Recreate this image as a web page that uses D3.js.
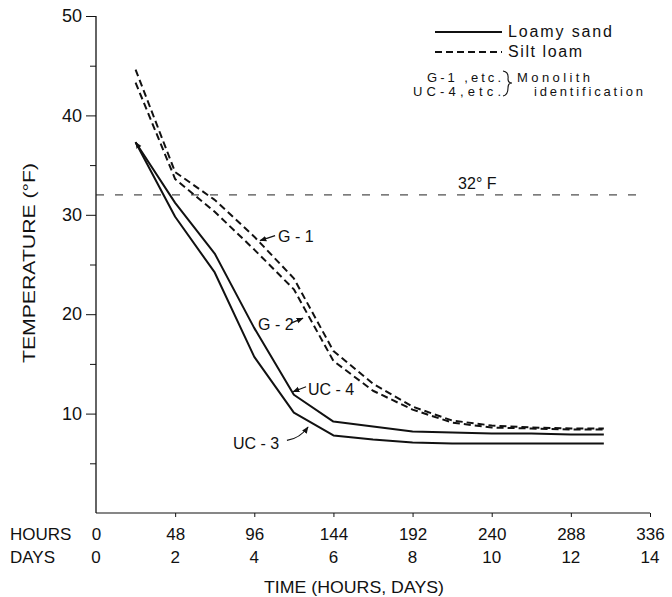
<!DOCTYPE html>
<html>
<head>
<meta charset="utf-8">
<script src="https://cdn.jsdelivr.net/npm/d3@7"></script>
<style>
  body { margin: 0; background: #fff; }
  svg { display: block; }
  text { font-family: "Liberation Sans", Arial, sans-serif; fill: #111; }
</style>
</head>
<body>
<svg id="chart" width="672" height="597"></svg>
<script>
// ---- data ----
const hours = [24, 48, 72, 96, 120, 144, 168, 192, 216, 240, 264, 288, 308];
const uc4 = [37.3, 31.2, 26.1, 18.6, 11.9, 9.2, 8.7, 8.2, 8.1, 8.0, 8.0, 7.9, 7.9];   // loamy sand
const uc3 = [37.3, 29.8, 24.2, 15.7, 10.1, 7.8, 7.4, 7.1, 7.0, 7.0, 7.0, 7.0, 7.0];   // loamy sand
const g1  = [44.6, 34.3, 31.5, 27.8, 23.6, 16.3, 13.0, 10.7, 9.3, 8.8, 8.6, 8.5, 8.5]; // silt loam
const g2  = [43.3, 33.6, 30.3, 26.5, 22.5, 15.3, 12.3, 10.4, 9.1, 8.6, 8.5, 8.4, 8.4]; // silt loam
const hourTicks = [0, 48, 96, 144, 192, 240, 288, 336];
const dayLabels = ["0", "2", "4", "6", "8", "10", "12", "14"];
const tempTicks = [5, 10, 15, 20, 25, 30, 35, 40, 45, 50];
const freezing = 32;

const series = [
  { name: "UC-4", values: uc4, dashed: false },
  { name: "UC-3", values: uc3, dashed: false },
  { name: "G-1", values: g1, dashed: true },
  { name: "G-2", values: g2, dashed: true }
];

// annotation labels in data units: [hour, temp] for text and arrow tail/tip
const annotations = [
  { label: "G-1",  text: [110.4, 27.3], from: [108.6, 27.9], to: [99.5, 27.4] },
  { label: "G-2",  text: [98.3, 18.4],  from: [118.3, 19.1], to: [125.5, 19.6] },
  { label: "UC-4", text: [128.6, 11.9], from: [127.4, 12.7], to: [119.5, 12.2] },
  { label: "UC-3", text: [83.1, 6.4],   from: [115.8, 7.3],  to: [128.6, 8.65], curve: [123.7, 7.5] }
];

// ---- chart ----
const svg = d3.select("#chart");
const x = d3.scaleLinear().domain([0, 336]).range([96, 650]);
const y = d3.scaleLinear().domain([0, 50]).range([513, 16]);

const defs = svg.append("defs");
defs.append("marker")
  .attr("id", "arrow").attr("viewBox", "0 0 10 10")
  .attr("refX", 9).attr("refY", 5)
  .attr("markerWidth", 7).attr("markerHeight", 7)
  .attr("markerUnits", "userSpaceOnUse")
  .attr("orient", "auto")
  .append("path").attr("d", "M0,1 L10,5 L0,9 Z").attr("fill", "#111");

// Y axis
const yAxis = d3.axisLeft(y)
  .tickValues(tempTicks)
  .tickSizeOuter(0)
  .tickPadding(4)
  .tickFormat(d => d % 10 === 0 ? d : "");
const gy = svg.append("g").attr("transform", `translate(${x(0)},0)`).call(yAxis);
gy.select(".domain").attr("stroke", "#111").attr("stroke-width", 1.3).attr("d", `M0,${y(0)}V${y(50)}`);
gy.selectAll(".tick line")
  .attr("stroke", "#111")
  .attr("x2", d => d % 10 === 0 ? -10 : -6);
gy.selectAll(".tick text")
  .attr("x", -14)
  .style("font-size", "18px")
  .style("font-family", "'Liberation Sans', Arial, sans-serif");

// X axis
const xAxis = d3.axisBottom(x)
  .tickValues(hourTicks)
  .tickSizeOuter(0)
  .tickSizeInner(4)
  .tickPadding(11)
  .tickFormat(d => d);
const gx = svg.append("g").attr("transform", `translate(0,${y(0)})`).call(xAxis);
gx.select(".domain").attr("stroke", "#111").attr("stroke-width", 1.2).attr("d", `M${x(0)},0H${x(336)}`);
gx.selectAll(".tick line").attr("stroke", "#111").attr("opacity", d => d === 0 ? 0 : 1);
gx.selectAll(".tick text")
  .style("font-size", "17px")
  .style("font-family", "'Liberation Sans', Arial, sans-serif");

// days row
svg.append("g").selectAll("text")
  .data(hourTicks)
  .join("text")
  .attr("x", d => x(d))
  .attr("y", 563)
  .attr("text-anchor", "middle")
  .style("font-size", "17px")
  .text((d, i) => dayLabels[i]);

svg.append("text").attr("x", 10).attr("y", 540).style("font-size", "17px").text("HOURS");
svg.append("text").attr("x", 10).attr("y", 563).style("font-size", "17px").text("DAYS");

// axis titles
svg.append("text")
  .attr("x", 354).attr("y", 593)
  .attr("text-anchor", "middle")
  .attr("textLength", 180).attr("lengthAdjust", "spacingAndGlyphs")
  .style("font-size", "17px")
  .text("TIME (HOURS, DAYS)");

svg.append("text")
  .attr("transform", "translate(35,263) rotate(-90)")
  .attr("text-anchor", "middle")
  .attr("textLength", 200).attr("lengthAdjust", "spacingAndGlyphs")
  .style("font-size", "16px")
  .text("TEMPERATURE (°F)");

// 32 F reference line
svg.append("line")
  .attr("x1", x(0)).attr("x2", x(336) - 5)
  .attr("y1", y(freezing)).attr("y2", y(freezing))
  .attr("stroke", "#222").attr("stroke-width", 1)
  .attr("stroke-dasharray", "8,11");
svg.append("text")
  .attr("x", x(219.6)).attr("y", y(32.6))
  .style("font-size", "16px")
  .text("32° F");

// series lines
const line = d3.line().x((d, i) => x(hours[i])).y(d => y(d));
svg.append("g").selectAll("path")
  .data(series)
  .join("path")
  .attr("d", d => line(d.values))
  .attr("fill", "none")
  .attr("stroke", "#111")
  .attr("stroke-width", 2)
  .attr("stroke-linejoin", "round")
  .attr("stroke-dasharray", d => d.dashed ? "7,4" : null);

// small arrowhead at solid-line start
svg.append("path")
  .attr("d", `M${x(hours[1])},${y(uc4[1])}L${x(hours[0])},${y(uc4[0])}`)
  .attr("fill", "none").attr("stroke", "none")
  .attr("marker-end", "url(#arrow)");

// annotations
const ag = svg.append("g");
annotations.forEach(a => {
  ag.append("text")
    .attr("x", x(a.text[0])).attr("y", y(a.text[1]))
    .style("font-size", "16px")
    .text(a.label.replace("-", " - "));
  const p = d3.path();
  p.moveTo(x(a.from[0]), y(a.from[1]));
  if (a.curve) p.quadraticCurveTo(x(a.curve[0]), y(a.curve[1]), x(a.to[0]), y(a.to[1]));
  else p.lineTo(x(a.to[0]), y(a.to[1]));
  ag.append("path")
    .attr("d", p.toString())
    .attr("fill", "none").attr("stroke", "#111").attr("stroke-width", 1.2)
    .attr("marker-end", "url(#arrow)");
});

// legend
const lg = svg.append("g");
lg.append("line").attr("x1", 435).attr("x2", 502).attr("y1", 32).attr("y2", 32)
  .attr("stroke", "#111").attr("stroke-width", 1.8);
lg.append("line").attr("x1", 435).attr("x2", 502).attr("y1", 52).attr("y2", 52)
  .attr("stroke", "#111").attr("stroke-width", 1.8).attr("stroke-dasharray", "7,4");
lg.append("text").attr("x", 508).attr("y", 37).attr("textLength", 104).attr("lengthAdjust", "spacing")
  .style("font-size", "16px").text("Loamy sand");
lg.append("text").attr("x", 508).attr("y", 57).attr("textLength", 74).attr("lengthAdjust", "spacing")
  .style("font-size", "16px").text("Silt loam");
lg.append("text").attr("x", 427).attr("y", 82).attr("textLength", 74).attr("lengthAdjust", "spacing")
  .style("font-size", "13px").text("G-1 ,etc.");
lg.append("text").attr("x", 413).attr("y", 96).attr("textLength", 88).attr("lengthAdjust", "spacing")
  .style("font-size", "13px").text("UC-4,etc.");
lg.append("path")
  .attr("d", "M503,71 Q509,72 508,79 Q508,83 512,83 Q508,83 508,88 Q508,95 503,96")
  .attr("fill", "none").attr("stroke", "#111").attr("stroke-width", 1.1);
lg.append("text").attr("x", 517).attr("y", 82).attr("textLength", 73).attr("lengthAdjust", "spacing")
  .style("font-size", "13px").text("Monolith");
lg.append("text").attr("x", 534).attr("y", 96).attr("textLength", 109).attr("lengthAdjust", "spacing")
  .style("font-size", "13px").text("identification");
</script>
</body>
</html>
